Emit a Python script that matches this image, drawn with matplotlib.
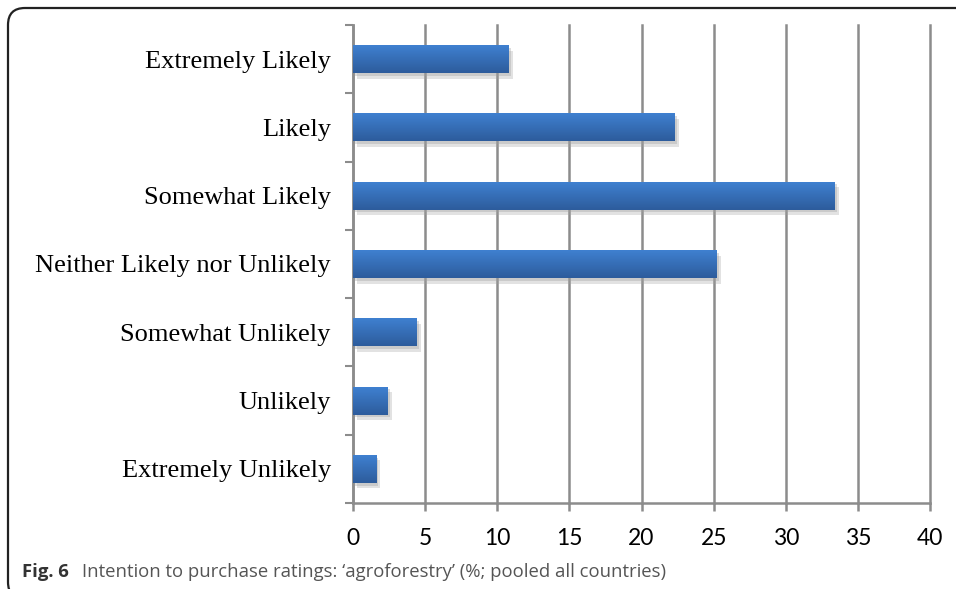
import numpy as np
import matplotlib
matplotlib.use("Agg")
from matplotlib import pyplot as plt
from matplotlib import patheffects as pe
from matplotlib.colors import LinearSegmentedColormap
from matplotlib.patches import FancyBboxPatch

categories = [
    "Extremely Likely",
    "Likely",
    "Somewhat Likely",
    "Neither Likely nor Unlikely",
    "Somewhat Unlikely",
    "Unlikely",
    "Extremely Unlikely",
]
values = [10.8, 22.3, 33.4, 25.2, 4.4, 2.4, 1.6]
x_ticks = [0, 5, 10, 15, 20, 25, 30, 35, 40]

grid_col = "#8c8c8c"
bar_cmap = LinearSegmentedColormap.from_list("bar", ["#3f80d0", "#2d5c9c"])

fig = plt.figure(figsize=(9.56, 5.89), dpi=100)
ax = fig.add_axes([0.3693, 0.146, 0.9728 - 0.3693, 0.9576 - 0.146])

pos = np.arange(len(categories))
bars = ax.barh(pos, values, height=0.41, color="#3570b8", zorder=3,
               path_effects=[pe.SimplePatchShadow(offset=(3, -4), shadow_rgbFace="#a0a0a0", alpha=0.3),
                             pe.SimplePatchShadow(offset=(1.5, -2), shadow_rgbFace="#a0a0a0", alpha=0.35),
                             pe.Normal()])

# vertical gradient on each bar
grad = np.linspace(0, 1, 64).reshape(-1, 1)
for b in bars:
    x0, y0 = b.get_x(), b.get_y()
    x1, y1 = x0 + b.get_width(), y0 + b.get_height()
    im = ax.imshow(grad, extent=[x0, x1, y1, y0], aspect="auto", cmap=bar_cmap,
                   zorder=4, interpolation="bilinear")
    im.set_clip_path(b)

ax.set_xlim(0, 40)
ax.set_ylim(len(categories) - 0.5, -0.5)
ax.set_xticks(x_ticks)
ax.set_xticklabels([str(t) for t in x_ticks], fontsize=16.5, family="Lato")
ax.grid(axis="x", color=grid_col, linewidth=1.8, zorder=0)
for gl in ax.get_xgridlines():
    gl.set_clip_on(False)
ax.set_axisbelow(True)

ax.set_yticks(np.arange(len(categories) + 1) - 0.5)
ax.set_yticklabels([])
ax.set_yticks(pos, minor=True)
ax.set_yticklabels(categories, minor=True, fontsize=19, family="Liberation Serif")
ax.tick_params(axis="y", which="major", length=6, width=1.5, color=grid_col)
ax.tick_params(axis="y", which="minor", length=0, pad=16)
ax.tick_params(axis="x", length=6, width=1.8, color=grid_col, pad=12)

for side in ["top", "right"]:
    ax.spines[side].set_visible(False)
for side in ["left", "bottom"]:
    ax.spines[side].set_color(grid_col)
    ax.spines[side].set_linewidth(1.8)

# rounded frame around the figure
frame = FancyBboxPatch((0.08, -0.1), 9.7, 5.89 - 0.08 + 0.1,
                       boxstyle="round,pad=0,rounding_size=0.17",
                       transform=fig.dpi_scale_trans, fill=False,
                       edgecolor="#222222", linewidth=1.6)
fig.patches.append(frame)

fig.text(22 / 956, 1 - 577 / 589, "Fig. 6", fontsize=13.3, fontweight="bold",
         family="Open Sans", color="#333333", va="baseline")
fig.text(82 / 956, 1 - 577 / 589,
         "Intention to purchase ratings: \u2018agroforestry\u2019 (%; pooled all countries)",
         fontsize=13.3, family="Open Sans", color="#555555", va="baseline")

fig.savefig("out.png", dpi=100)
